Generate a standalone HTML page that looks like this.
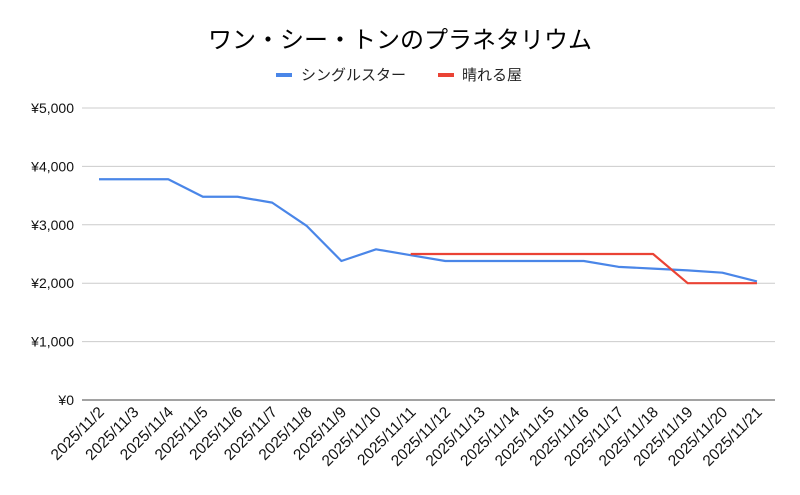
<!DOCTYPE html>
<html><head><meta charset="utf-8"><style>body{margin:0;background:#fff}svg{display:block}text{font-family:"Liberation Sans","Noto Sans CJK JP",sans-serif}</style></head>
<body>
<svg id="s" width="800" height="495" xmlns="http://www.w3.org/2000/svg">
<rect width="800" height="495" fill="#fff"/>
<text x="400" y="48" text-anchor="middle" font-size="24" fill="#000">ワン・シー・トンのプラネタリウム</text>
<line x1="276" y1="75" x2="292" y2="75" stroke="#4a86e8" stroke-width="4"/>
<text x="301" y="80" font-size="15" fill="#222">シングルスター</text>
<line x1="438" y1="75" x2="454" y2="75" stroke="#ea4335" stroke-width="4"/>
<text x="462" y="80" font-size="15" fill="#222">晴れる屋</text>
<g id="g"></g>
</svg>
<script>
var g=document.getElementById('g'),h='';
function Y(v){return 400-v*0.0584}
function X(i){return 99+i*34.63}
for(var k=0;k<=5;k++){var y=Y(k*1000);
h+='<line x1="82" x2="775" y1="'+y+'" y2="'+y+'" stroke="'+(k?'#ccc':'#444')+'" stroke-width="1"/>';
h+='<text x="74" y="'+(y+5)+'" text-anchor="end" font-size="14" fill="#111">¥'+(k?k+',000':'0')+'</text>';}
for(var i=0;i<20;i++){var x=X(i)+6;
h+='<text transform="translate('+x+',413) rotate(-45)" text-anchor="end" font-size="15.5" fill="#111">2025/11/'+(i+2)+'</text>';}
var b=[3780,3780,3780,3480,3480,3380,2980,2380,2580,2480,2380,2380,2380,2380,2380,2280,2250,2220,2180,2030];
var p=b.map(function(v,i){return X(i)+','+Y(v)}).join(' ');
h+='<polyline points="'+p+'" fill="none" stroke="#4a86e8" stroke-width="2.2" stroke-linejoin="round"/>';
var r=[2500,2500,2500,2500,2500,2500,2500,2500,2000,2000,2000];
p=r.map(function(v,i){return X(i+9)+','+Y(v)}).join(' ');
h+='<polyline points="'+p+'" fill="none" stroke="#ea4335" stroke-width="2.2" stroke-linejoin="round"/>';
g.innerHTML=h;
</script>
</body></html>
